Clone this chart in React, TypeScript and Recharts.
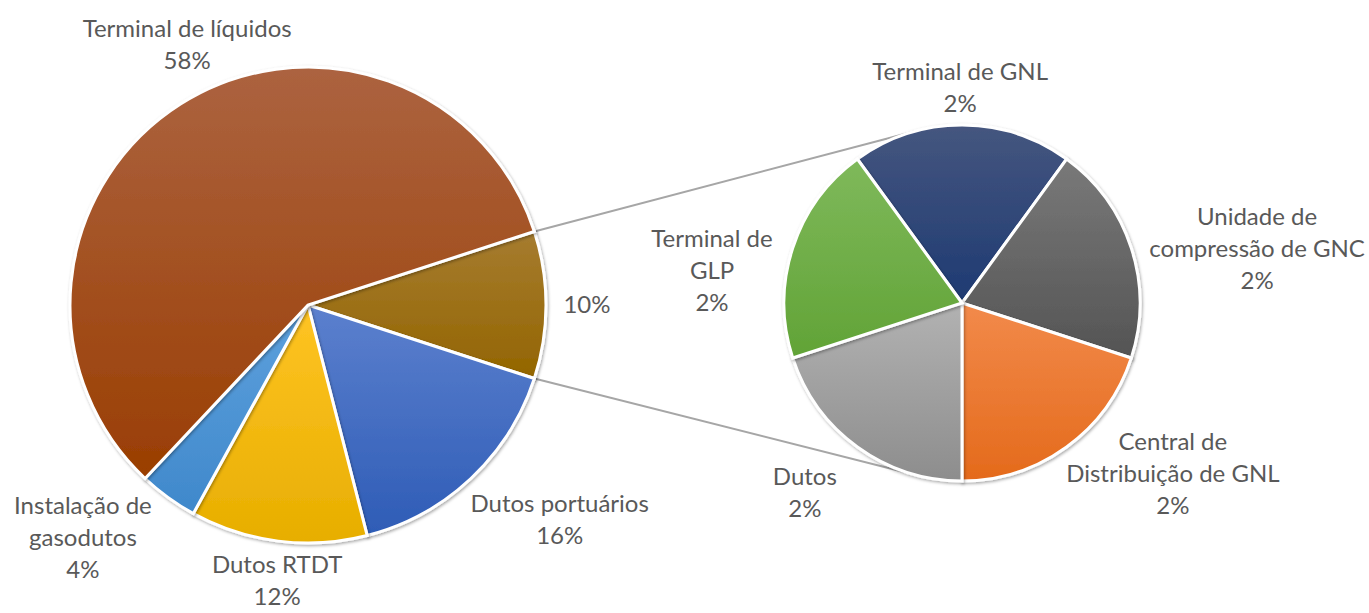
import React from "react";
import { PieChart, Pie, Cell, Customized } from "recharts";

// main pie (the first slice is the "other" share, broken out to the right)
const leftCategories = ["", "Dutos portuários", "Dutos RTDT", "Instalação de\ngasodutos", "Terminal de líquidos"];
const leftValues = [10, 16, 12, 4, 58];

// secondary pie, breakdown of the 10%
const rightCategories = [
  "Terminal de GNL",
  "Unidade de\ncompressão de GNC",
  "Central de\nDistribuição de GNL",
  "Dutos",
  "Terminal de\nGLP",
];
const rightValues = [2, 2, 2, 2, 2];

const leftColors = [
  ["#A67C30", "#936500"],
  ["#5C80CE", "#2E5CB6"],
  ["#FFC424", "#E7AE00"],
  ["#5EA1DD", "#3F88CB"],
  ["#AC6340", "#9A3E02"],
];
const rightColors = [
  ["#45567F", "#1E3A72"],
  ["#797979", "#545454"],
  ["#F28A4B", "#E46A1B"],
  ["#B2B2B2", "#8D8D8D"],
  ["#7FB95B", "#61A336"],
];

// label placement relative to each slice: angle shift (deg) and distance past the rim (px)
const leftLabelPos = [
  { da: 0, dr: 41 },
  { da: 6.3, dr: 93 },
  { da: 0.8, dr: 39 },
  { da: -8, dr: 86 },
  { da: -7.5, dr: 49 },
];
const rightLabelPos = [
  { da: 0.5, dr: 37 },
  { da: -7.6, dr: 122 },
  { da: 15.1, dr: 93 },
  { da: -3.7, dr: 68 },
  { da: 10.7, dr: 74 },
];

const W = 1369;
const H = 613;
const LEFT = { cx: 308, cy: 305, r: 238 };
const RIGHT = { cx: 962, cy: 303, r: 178 };
const TEXT = "#595959";
const FONT = "Lato, 'Open Sans', sans-serif";
const LINE_H = 32;
const RAD = Math.PI / 180;

const leftData = leftCategories.map((name, i) => ({ name, value: leftValues[i] }));
const rightData = rightCategories.map((name, i) => ({ name, value: rightValues[i] }));

const otherShare = leftValues[0] / leftValues.reduce((a, b) => a + b, 0);
const otherHalf = otherShare * 180; // half-angle of the broken-out slice

function makeLabel(pos: { da: number; dr: number }[]) {
  return (props: any) => {
    const { cx, cy, midAngle, outerRadius, index, name, value } = props;
    const p = pos[index];
    const a = (midAngle + p.da) * RAD;
    const d = outerRadius + p.dr;
    const x = cx + d * Math.cos(a);
    const y = cy - d * Math.sin(a);
    const lines = (name ? String(name).split("\n") : []).concat(`${value}%`);
    const top = y - ((lines.length - 1) * LINE_H) / 2;
    return (
      <text x={x} y={top} textAnchor="middle" fill={TEXT} fontSize={24} fontFamily={FONT}>
        {lines.map((t, i) => (
          <tspan key={i} x={x} y={top + i * LINE_H} dy="0.35em">
            {t}
          </tspan>
        ))}
      </text>
    );
  };
}

function Connectors() {
  const pt = (c: typeof LEFT, deg: number) => ({
    x: c.cx + c.r * Math.cos(deg * RAD),
    y: c.cy - c.r * Math.sin(deg * RAD),
  });
  const a1 = pt(LEFT, otherHalf);
  const a2 = pt(LEFT, -otherHalf);
  const b1 = pt(RIGHT, 105);
  const b2 = pt(RIGHT, -105);
  return (
    <g stroke="#A6A6A6" strokeWidth={2}>
      <line x1={a1.x} y1={a1.y} x2={b1.x} y2={b1.y} />
      <line x1={a2.x} y1={a2.y} x2={b2.x} y2={b2.y} />
    </g>
  );
}

export default function App() {
  return (
    <div style={{ position: "absolute", left: 0, top: 0, background: "#fff" }}>
      <PieChart width={W} height={H} margin={{ top: 0, right: 0, bottom: 0, left: 0 }}>
        <defs>
          {leftColors.map((c, i) => (
            <linearGradient key={`l${i}`} id={`lg${i}`} x1="0" y1="0" x2="0" y2="1">
              <stop offset="0%" stopColor={c[0]} />
              <stop offset="100%" stopColor={c[1]} />
            </linearGradient>
          ))}
          {rightColors.map((c, i) => (
            <linearGradient key={`r${i}`} id={`rg${i}`} x1="0" y1="0" x2="0" y2="1">
              <stop offset="0%" stopColor={c[0]} />
              <stop offset="100%" stopColor={c[1]} />
            </linearGradient>
          ))}
          <filter id="sliceShadow" x="-10%" y="-10%" width="120%" height="120%">
            <feDropShadow dx="1" dy="1.5" stdDeviation="1.8" floodColor="#000" floodOpacity="0.35" />
          </filter>
        </defs>
        <Customized component={Connectors} />
        <Pie
          data={leftData}
          dataKey="value"
          nameKey="name"
          cx={LEFT.cx}
          cy={LEFT.cy}
          outerRadius={LEFT.r}
          startAngle={otherHalf}
          endAngle={otherHalf - 360}
          stroke="#fff"
          strokeWidth={3}
          label={makeLabel(leftLabelPos)}
          labelLine={false}
          isAnimationActive={false}
        >
          {leftData.map((_, i) => (
            <Cell key={i} fill={`url(#lg${i})`} style={{ filter: "url(#sliceShadow)" }} />
          ))}
        </Pie>
        <Pie
          data={rightData}
          dataKey="value"
          nameKey="name"
          cx={RIGHT.cx}
          cy={RIGHT.cy}
          outerRadius={RIGHT.r}
          startAngle={126}
          endAngle={126 - 360}
          stroke="#fff"
          strokeWidth={3}
          label={makeLabel(rightLabelPos)}
          labelLine={false}
          isAnimationActive={false}
        >
          {rightData.map((_, i) => (
            <Cell key={i} fill={`url(#rg${i})`} style={{ filter: "url(#sliceShadow)" }} />
          ))}
        </Pie>
      </PieChart>
    </div>
  );
}
